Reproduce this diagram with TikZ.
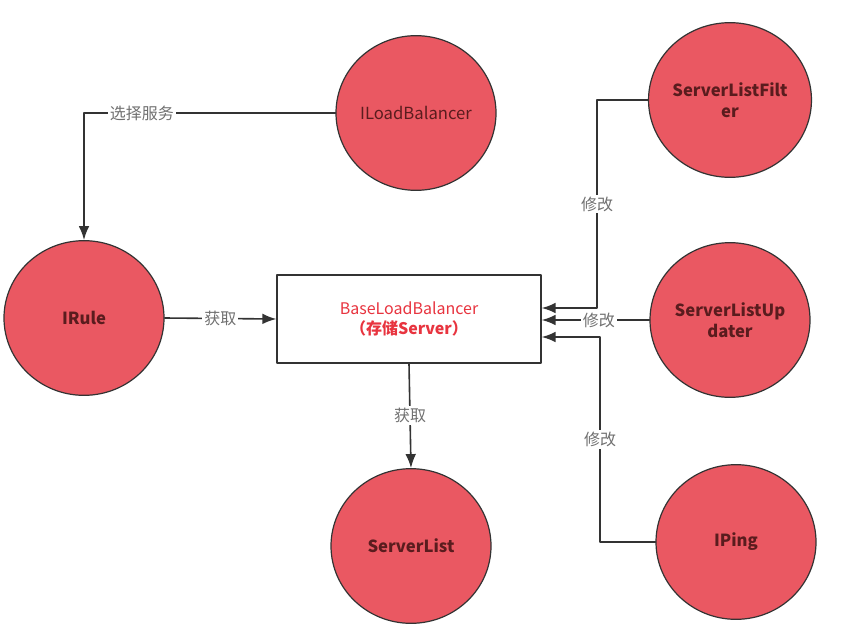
\documentclass[tikz,border=0pt]{standalone}
\usepackage{fontspec}
\setmainfont{Noto Sans CJK SC}
\usepackage{xcolor}
\usepackage{tikz}
\usetikzlibrary{arrows.meta,positioning,shapes.geometric,calc}
\definecolor{bubblered}{HTML}{EA5862}
\definecolor{bubbleink}{HTML}{5A1C1E}
\definecolor{linkgray}{HTML}{333333}
\definecolor{labelgray}{HTML}{707070}
\definecolor{coretext}{HTML}{E8343F}
\tikzset{
  lb diagram/.style={
    x=0.75pt, y=-0.75pt,
    font=\fontsize{12}{15}\selectfont,
    line cap=round,
    line join=round
  },
  bubble/.style={
    ellipse,
    draw=linkgray,
    line width=0.9pt,
    fill=bubblered,
    text=bubbleink,
    font=\fontsize{12.5}{16}\selectfont\bfseries,
    align=center,
    minimum width=120pt,
    minimum height=116pt,
    inner sep=0pt
  },
  corebox/.style={
    draw=linkgray,
    line width=1pt,
    fill=white,
    align=center,
    text=coretext,
    minimum width=198pt,
    minimum height=66pt
  },
  linkarrow/.style={-{Latex[length=10.5pt,width=8pt]}, draw=linkgray, line width=1.2pt},
  linklabel/.style={
    fill=white,
    text=labelgray,
    inner sep=1.5pt,
    font=\fontsize{12}{14}\selectfont
  }
}
\begin{document}
\begin{tikzpicture}[lb diagram]
\useasboundingbox[fill=white] (0,0) rectangle (842,631);
% nodes
\node[bubble, font=\fontsize{12.5}{16}\selectfont] (lb) at (416,113) {ILoadBalancer};
\node[bubble] (rule) at (84,318) {IRule};
\node[corebox] (base) at (409,319) {BaseLoadBalancer\\\textbf{（存储Server）}};
\node[bubble] (list) at (411,546) {ServerList};
\node[bubble] (filter) at (730,100) {ServerListFilt\\er};
\node[bubble] (updater) at (730,320) {ServerListUp\\dater};
\node[bubble] (ping) at (736,542) {IPing};
% bends
\coordinate (fbend) at (597,100);
\coordinate (pbend) at (600,542);
% links
\draw[linkarrow] (lb.west) -- node[linklabel, pos=0.77] {选择服务} (lb.west -| rule.north) -- (rule.north);
\draw[linkarrow] (rule.east) -- node[linklabel] {获取} (base.west);
\draw[linkarrow] (base.south) -- node[linklabel] {获取} (list.north);
\draw[linkarrow] (filter.west) -- (fbend) -- node[linklabel, pos=0.5] {修改} (fbend |- 0,308) -- (base.east |- 0,308);
\draw[linkarrow] (updater.west) -- node[linklabel, pos=0.47] {修改} (base.east |- updater.west);
\draw[linkarrow] (ping.west) -- (pbend) -- node[linklabel, pos=0.5] {修改} (pbend |- 0,337) -- (base.east |- 0,337);
\end{tikzpicture}
\end{document}
